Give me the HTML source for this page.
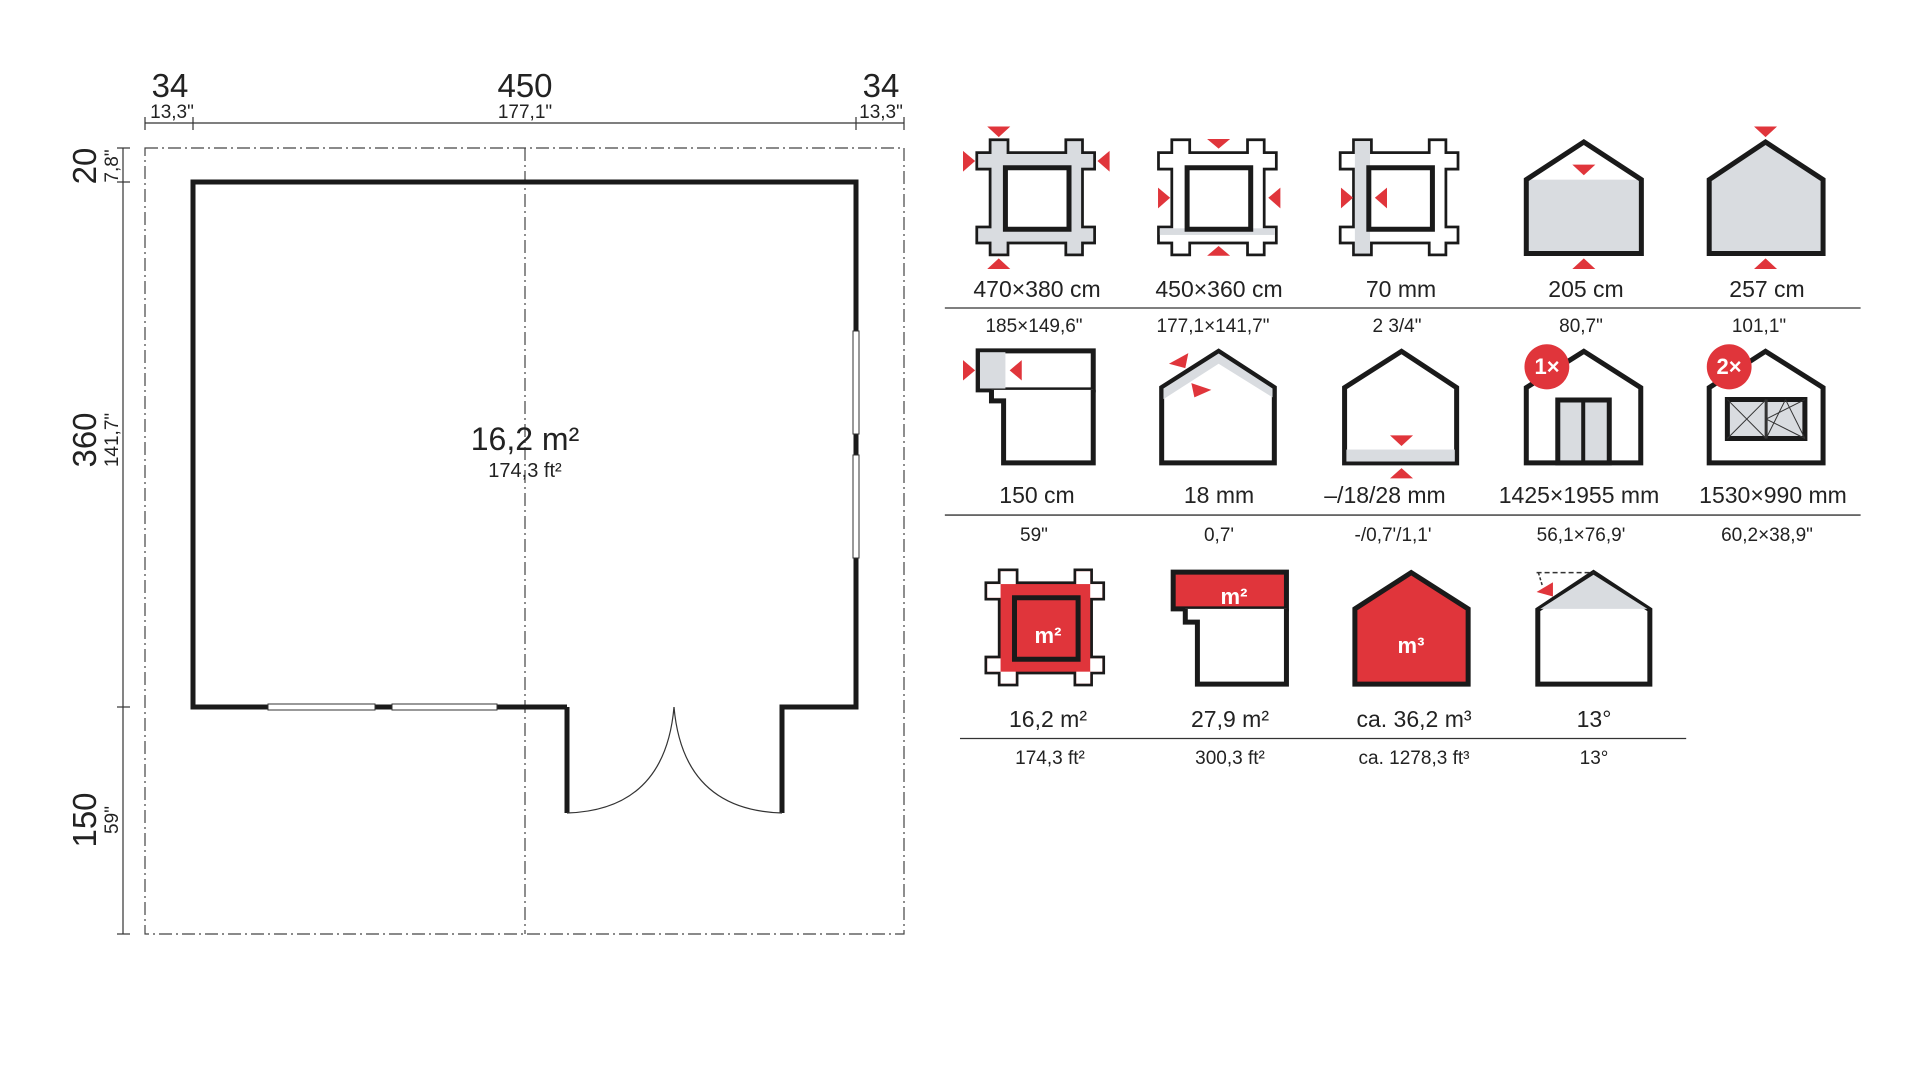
<!DOCTYPE html>
<html><head><meta charset="utf-8"><style>
html,body{margin:0;padding:0;background:#fff;}
svg{position:absolute;}
text{font-family:"Liberation Sans",sans-serif;fill:#222;}
#ic *{vector-effect:non-scaling-stroke;}
</style></head><body>
<svg style="left:0;top:0" width="1920" height="1080" viewBox="0 0 1920 1080">
<g stroke="#333" fill="none" stroke-width="1.2">
<line x1="145" y1="123" x2="904" y2="123"/>
<line x1="145" y1="117" x2="145" y2="130"/>
<line x1="193" y1="117" x2="193" y2="130"/>
<line x1="856" y1="117" x2="856" y2="130"/>
<line x1="904" y1="117" x2="904" y2="130"/>
<line x1="123" y1="148" x2="123" y2="934"/>
<line x1="117" y1="148" x2="130" y2="148"/>
<line x1="117" y1="182" x2="130" y2="182"/>
<line x1="117" y1="707" x2="130" y2="707"/>
<line x1="117" y1="934" x2="130" y2="934"/>
</g>
<g stroke="#444" fill="none" stroke-width="1.2" stroke-dasharray="13 4 2 4">
<rect x="145" y="148" width="759" height="786"/>
<line x1="525" y1="148" x2="525" y2="934"/>
</g>
<path d="M567,707 H193 V182 H856 V707 H782 V813 M567,707 V813" fill="none" stroke="#1a1a1a" stroke-width="5"/>
<g fill="#fff" stroke="#333" stroke-width="1">
<rect x="853" y="331" width="6" height="103"/>
<rect x="853" y="455" width="6" height="103"/>
<rect x="268" y="704" width="107" height="6"/>
<rect x="392" y="704" width="105" height="6"/>
</g>
<g fill="none" stroke="#333" stroke-width="1.2">
<path d="M567,813 Q665,810 674,707"/>
<path d="M782,813 Q683,810 674,707"/>
</g>
<text x="170" y="97" font-size="33" text-anchor="middle">34</text>
<text x="172" y="118" font-size="19" text-anchor="middle">13,3"</text>
<text x="525" y="97" font-size="33" text-anchor="middle">450</text>
<text x="525" y="118" font-size="19" text-anchor="middle">177,1"</text>
<text x="881" y="97" font-size="33" text-anchor="middle">34</text>
<text x="881" y="118" font-size="19" text-anchor="middle">13,3"</text>
<text transform="translate(96,166) rotate(-90)" font-size="33" text-anchor="middle">20</text>
<text transform="translate(118,166) rotate(-90)" font-size="19" text-anchor="middle">7,8"</text>
<text transform="translate(96,440) rotate(-90)" font-size="33" text-anchor="middle">360</text>
<text transform="translate(118,440) rotate(-90)" font-size="19" text-anchor="middle">141,7"</text>
<text transform="translate(96,820) rotate(-90)" font-size="33" text-anchor="middle">150</text>
<text transform="translate(118,820) rotate(-90)" font-size="19" text-anchor="middle">59"</text>
<text x="525" y="450" font-size="32" text-anchor="middle">16,2 m²</text>
<text x="525" y="477" font-size="20" text-anchor="middle">174,3 ft²</text>
</svg>

<svg id="ic" style="left:940px;top:100px" width="940" height="700" viewBox="0 0 1552 1582" preserveAspectRatio="none">
<defs>
<g id="logs">
<rect x="63" y="122" width="190" height="31"/>
<rect x="63" y="290" width="190" height="30"/>
<rect x="85" y="93" width="25" height="254"/>
<rect x="210" y="93" width="23" height="254"/>
</g>
</defs>
<g>
<use href="#logs" fill="none" stroke="#1a1a1a" stroke-width="5.5"/>
<use href="#logs" fill="#d9dce0"/>
<rect x="108" y="153" width="105" height="139" fill="#fff" stroke="#1a1a1a" stroke-width="5"/>
</g>
<g transform="translate(300,0)">
<use href="#logs" fill="none" stroke="#1a1a1a" stroke-width="5.5"/>
<use href="#logs" fill="#fff"/>
<rect x="63" y="290" width="190" height="15" fill="#d9dce0"/>
<rect x="108" y="153" width="105" height="139" fill="#fff" stroke="#1a1a1a" stroke-width="5"/>
</g>
<g transform="translate(600,0)">
<use href="#logs" fill="none" stroke="#1a1a1a" stroke-width="5.5"/>
<use href="#logs" fill="#fff"/>
<rect x="85" y="93" width="25" height="254" fill="#d9dce0"/>
<rect x="108" y="153" width="105" height="139" fill="#fff" stroke="#1a1a1a" stroke-width="5"/>
</g>
<polygon points="968,180 1063,95 1158,180 1158,347 968,347" fill="#fff"/>
<rect x="968" y="180" width="190" height="167" fill="#d9dce0"/>
<polygon points="968,180 1063,95 1158,180 1158,347 968,347" fill="none" stroke="#1a1a1a" stroke-width="5"/>
<polygon points="1270,180 1363,95 1458,180 1458,347 1270,347" fill="#d9dce0" stroke="#1a1a1a" stroke-width="5"/>
<g fill="#e0353b">
<polygon points="78,60 116,60 97,84"/><polygon points="78,382 116,382 97,358"/>
<polygon points="38,115 38,162 58,138"/><polygon points="280,115 280,162 260,138"/>
<polygon points="441,88 479,88 460,110"/><polygon points="441,352 479,352 460,330"/>
<polygon points="360,198 360,245 380,221"/><polygon points="562,198 562,245 542,221"/>
<polygon points="662,198 662,245 682,221"/><polygon points="738,198 738,245 718,221"/>
<polygon points="1044,146 1082,146 1063,170"/><polygon points="1044,382 1082,382 1063,358"/>
<polygon points="1344,60 1382,60 1363,84"/><polygon points="1344,382 1382,382 1363,358"/>
</g>
<rect x="63" y="567" width="190" height="88" fill="#fff" stroke="#1a1a1a" stroke-width="5"/>
<rect x="66" y="570" width="42" height="82" fill="#d9dce0"/>
<path d="M85,655 V680 H105 V820 H253 V655" fill="#fff" stroke="#1a1a1a" stroke-width="5"/>
<polygon points="38,588 38,634 58,611" fill="#e0353b"/><polygon points="135,588 135,634 115,611" fill="#e0353b"/>
<polygon points="366,650 460,568 552,650 552,820 366,820" fill="#fff" stroke="#1a1a1a" stroke-width="5"/>
<polygon points="369,652 460,573 549,652 549,672 460,596 369,676" fill="#d9dce0"/>
<polygon points="410,572 378,596 405,606" fill="#e0353b"/><polygon points="415,640 448,655 420,672" fill="#e0353b"/>
<polygon points="668,650 762,568 853,650 853,820 668,820" fill="#fff" stroke="#1a1a1a" stroke-width="5"/>
<rect x="671" y="790" width="179" height="27" fill="#d9dce0"/>
<polygon points="743,758 781,758 762,782" fill="#e0353b"/><polygon points="743,855 781,855 762,832" fill="#e0353b"/>
<polygon points="968,650 1063,568 1157,650 1157,820 968,820" fill="#fff" stroke="#1a1a1a" stroke-width="5"/>
<rect x="1020" y="678" width="85" height="142" fill="#d9dce0" stroke="#1a1a1a" stroke-width="5"/>
<line x1="1062" y1="678" x2="1062" y2="820" stroke="#1a1a1a" stroke-width="4"/>
<ellipse cx="1002" cy="603" rx="37" ry="51" fill="#e0353b"/>
<polygon points="1270,650 1363,568 1458,650 1458,820 1270,820" fill="#fff" stroke="#1a1a1a" stroke-width="5"/>
<rect x="1300" y="677" width="128" height="88" fill="#d9dce0" stroke="#1a1a1a" stroke-width="5"/>
<g stroke="#333" stroke-width="1"><line x1="1364" y1="677" x2="1364" y2="765" stroke-width="3"/><line x1="1300" y1="677" x2="1364" y2="765"/><line x1="1364" y1="677" x2="1300" y2="765"/><line x1="1364" y1="721" x2="1428" y2="677"/><line x1="1364" y1="721" x2="1428" y2="765"/><line x1="1396" y1="677" x2="1364" y2="765"/><line x1="1396" y1="677" x2="1428" y2="765"/></g>
<ellipse cx="1303" cy="603" rx="37" ry="51" fill="#e0353b"/>
<g transform="translate(15,972)">
<use href="#logs" fill="none" stroke="#1a1a1a" stroke-width="5.5"/>
<use href="#logs" fill="#e0353b"/>
<rect x="85" y="93" width="25" height="29" fill="#fff"/><rect x="210" y="93" width="23" height="29" fill="#fff"/>
<rect x="85" y="320" width="25" height="27" fill="#fff"/><rect x="210" y="320" width="23" height="27" fill="#fff"/>
<rect x="63" y="122" width="22" height="31" fill="#fff"/><rect x="233" y="122" width="20" height="31" fill="#fff"/>
<rect x="63" y="290" width="22" height="30" fill="#fff"/><rect x="233" y="290" width="20" height="30" fill="#fff"/>
<rect x="108" y="153" width="105" height="139" fill="#e0353b" stroke="#1a1a1a" stroke-width="5"/>
</g>
<rect x="385" y="1067" width="187" height="83" fill="#e0353b" stroke="#1a1a1a" stroke-width="5"/>
<path d="M405,1150 V1180 H425 V1320 H572 V1150" fill="#fff" stroke="#1a1a1a" stroke-width="5"/>
<polygon points="685,1150 778,1068 872,1150 872,1320 685,1320" fill="#e0353b" stroke="#1a1a1a" stroke-width="5"/>
<polygon points="987,1152 1079,1068 1172,1152 1172,1320 987,1320" fill="#fff" stroke="#1a1a1a" stroke-width="5"/>
<polygon points="991,1150 1079,1073 1168,1150" fill="#d9dce0"/>
<line x1="985" y1="1068" x2="1079" y2="1068" stroke="#333" stroke-width="1.5" stroke-dasharray="5 3"/>
<line x1="988" y1="1068" x2="995" y2="1100" stroke="#333" stroke-width="1.5" stroke-dasharray="3 2"/>
<polygon points="1012,1090 985,1112 1012,1122" fill="#e0353b"/>
<g stroke="#333" stroke-width="1.3">
<line x1="8" y1="470" x2="1520" y2="470"/>
<line x1="8" y1="938" x2="1520" y2="938"/>
<line x1="33" y1="1443" x2="1232" y2="1443"/>
</g>
</svg>

<svg style="left:0;top:0" width="1920" height="1080" viewBox="0 0 1920 1080">
<g font-size="23" text-anchor="middle">
<text x="1037" y="297">470×380 cm</text><text x="1219" y="297">450×360 cm</text><text x="1401" y="297">70 mm</text><text x="1586" y="297">205 cm</text><text x="1767" y="297">257 cm</text>
<text x="1037" y="503">150 cm</text><text x="1219" y="503">18 mm</text><text x="1385" y="503">–/18/28 mm</text><text x="1579" y="503">1425×1955 mm</text><text x="1773" y="503">1530×990 mm</text>
<text x="1048" y="727">16,2 m²</text><text x="1230" y="727">27,9 m²</text><text x="1414" y="727">ca. 36,2 m³</text><text x="1594" y="727">13°</text>
</g>
<g font-size="19" text-anchor="middle">
<text x="1034" y="332">185×149,6"</text><text x="1213" y="332">177,1×141,7"</text><text x="1397" y="332">2  3/4"</text><text x="1581" y="332">80,7"</text><text x="1759" y="332">101,1"</text>
<text x="1034" y="541">59"</text><text x="1219" y="541">0,7'</text><text x="1393" y="541">-/0,7'/1,1'</text><text x="1581" y="541">56,1×76,9'</text><text x="1767" y="541">60,2×38,9"</text>
<text x="1050" y="764">174,3 ft²</text><text x="1230" y="764">300,3 ft²</text><text x="1414" y="764">ca. 1278,3 ft³</text><text x="1594" y="764">13°</text>
</g>
<g font-size="22" font-weight="bold" text-anchor="middle">
<text x="1547" y="374" style="fill:#fff">1×</text>
<text x="1729" y="374" style="fill:#fff">2×</text>
<text x="1048" y="643" style="fill:#fff">m²</text>
<text x="1234" y="604" style="fill:#fff">m²</text>
<text x="1411" y="653" style="fill:#fff">m³</text>
</g>
</svg>
</body></html>
